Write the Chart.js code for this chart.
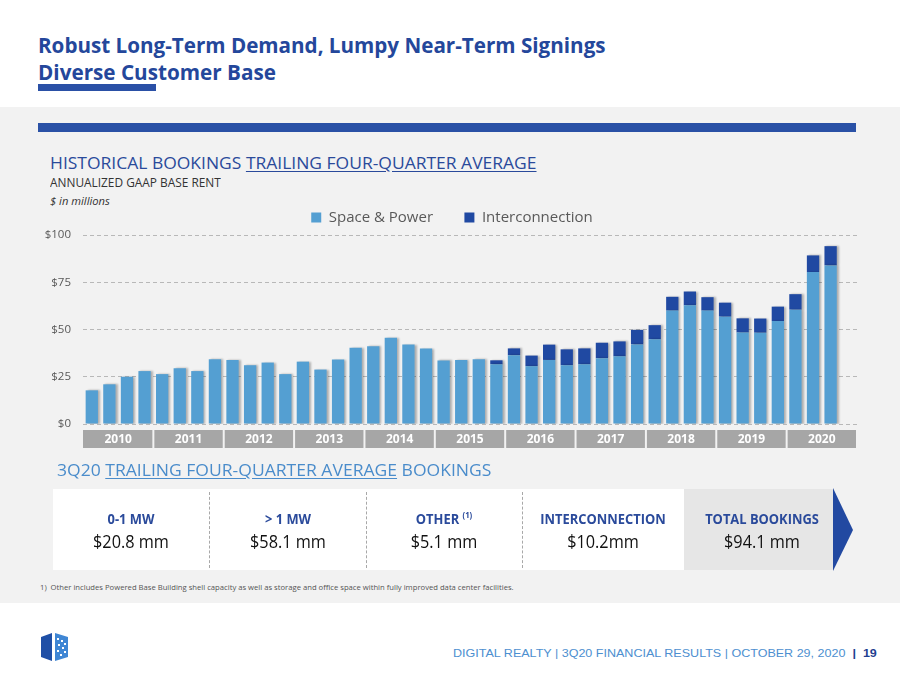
<!DOCTYPE html>
<html><head><meta charset="utf-8">
<script src="https://cdn.jsdelivr.net/npm/chart.js@4.4.0/dist/chart.umd.min.js"></script>
<style>
html,body{margin:0;padding:0;width:900px;height:675px;overflow:hidden;background:#fff;font-family:"Open Sans",sans-serif;}
.t{position:absolute;white-space:nowrap;line-height:1;transform-origin:left center;}
.c{transform-origin:center center;}
#panel{position:absolute;left:0;top:107px;width:900px;height:496px;background:#f2f2f2;}
.lbl{font-weight:700;color:#2a4a9b;font-size:15px;}
.val{color:#111;font-size:18.5px;}
.sep{position:absolute;top:492px;height:76px;width:0;border-left:1px dashed #a8a8a8;}
</style></head>
<body>
<div class="t" data-w="568" style="left:38px;top:33px;font-size:22px;font-weight:700;color:#24479b;">Robust Long-Term Demand, Lumpy Near-Term Signings</div>
<div class="t" data-w="238" style="left:38px;top:59.5px;font-size:22px;font-weight:700;color:#24479b;">Diverse Customer Base</div>
<div style="position:absolute;left:38px;top:84px;width:118px;height:7px;background:#2a50a6;"></div>
<div id="panel"></div>
<div style="position:absolute;left:38px;top:123px;width:818px;height:9px;background:#2a51a6;"></div>

<div class="t" data-w="487" style="left:50px;top:154px;font-size:17px;color:#2a4a9b;">HISTORICAL BOOKINGS <span style="text-decoration:underline;text-underline-offset:2px;">TRAILING FOUR-QUARTER AVERAGE</span></div>
<div class="t" data-w="171" style="left:50px;top:177px;font-size:12.5px;color:#333;">ANNUALIZED GAAP BASE RENT</div>
<div class="t" data-w="60" style="left:50px;top:195px;font-size:11px;font-style:italic;color:#333;">$ in millions</div>

<canvas id="chart" width="900" height="260" style="position:absolute;left:0;top:200px;width:900px;height:260px;"></canvas>

<div class="t" data-w="434" style="left:57px;top:462px;font-size:16px;color:#4a8ccb;">3Q20 <span style="text-decoration:underline;text-underline-offset:2px;">TRAILING FOUR-QUARTER AVERAGE</span> BOOKINGS</div>

<div style="position:absolute;left:53px;top:489px;width:631px;height:81px;background:#fff;"></div>
<div style="position:absolute;left:684px;top:489px;width:150px;height:81px;background:#e6e6e6;"></div>
<svg style="position:absolute;left:833px;top:488px;" width="22" height="84"><polygon points="0,0 20,42 0,83" fill="#2249a1"/></svg>
<div class="sep" style="left:209px;"></div>
<div class="sep" style="left:366px;"></div>
<div class="sep" style="left:522px;"></div>

<div id="boxes"></div>

<div class="t" data-w="474" style="left:40px;top:583px;font-size:8px;color:#555;">1)&nbsp; Other includes Powered Base Building shell capacity as well as storage and office space within fully improved data center facilities.</div>

<svg style="position:absolute;left:41px;top:632px;" width="28" height="30" viewBox="0 0 28 30">
<polygon points="0,5 11,1 11,29 0,25" fill="#1f4fa6"/>
<polygon points="14,1 27,5 27,25 14,29" fill="#3f86d4"/>
<g fill="#fff"><rect x="16" y="6" width="2" height="2"/><rect x="20" y="8" width="2" height="2"/><rect x="23" y="11" width="2" height="2"/><rect x="17" y="12" width="2" height="2"/><rect x="21" y="15" width="2" height="2"/><rect x="16" y="18" width="2" height="2"/><rect x="23" y="19" width="2" height="2"/><rect x="19" y="22" width="2" height="2"/></g>
</svg>
<div class="t" data-w="424" style="left:453px;top:647.5px;font-size:11.5px;font-family:'Liberation Sans Narrow','Liberation Sans',sans-serif;color:#4d8fd0;">DIGITAL REALTY | 3Q20 FINANCIAL RESULTS | OCTOBER 29, 2020 &nbsp;<b style="color:#1f3f90;">|</b>&nbsp; <b style="color:#1f3f90;">19</b></div>

<script>
// ---- data ----
const quarters = ['1Q10','2Q10','3Q10','4Q10','1Q11','2Q11','3Q11','4Q11','1Q12','2Q12','3Q12','4Q12',
  '1Q13','2Q13','3Q13','4Q13','1Q14','2Q14','3Q14','4Q14','1Q15','2Q15','3Q15','4Q15',
  '1Q16','2Q16','3Q16','4Q16','1Q17','2Q17','3Q17','4Q17','1Q18','2Q18','3Q18','4Q18',
  '1Q19','2Q19','3Q19','4Q19','1Q20','2Q20','3Q20','4Q20'];
const years = ['2010','2011','2012','2013','2014','2015','2016','2017','2018','2019','2020'];
const spacePower = [17.8,21.0,25.0,28.0,26.4,29.5,28.0,34.3,33.9,31.1,32.5,26.4,
  33.0,28.8,34.1,40.4,41.1,45.6,42.0,39.9,33.6,33.9,34.3,31.6,
  36.4,30.6,33.9,31.1,31.6,34.8,35.8,42.1,44.8,60.0,62.8,60.0,
  56.8,48.4,48.3,54.5,60.5,80.4,83.9,null];
const interconnection = [0,0,0,0,0,0,0,0,0,0,0,0,
  0,0,0,0,0,0,0,0,0,0,0,2.1,
  3.6,5.6,8.1,8.4,8.4,8.2,7.9,7.7,7.5,7.3,7.3,7.1,
  7.4,7.5,7.5,7.6,8.2,8.8,10.2,null];
const yTicks = [0,25,50,75,100];
const summaryLabels = ['0-1 MW','> 1 MW','OTHER <sup style="font-size:9px;vertical-align:6px;line-height:0">(1)</sup>','INTERCONNECTION','TOTAL BOOKINGS'];
const summaryValues = ['$20.8 mm','$58.1 mm','$5.1 mm','$10.2mm','$94.1 mm'];

// summary boxes
const centers = [131,288,444,603,762];
const boxes = document.getElementById('boxes');
summaryLabels.forEach((l,i)=>{
  const a = document.createElement('div');
  a.className='t c lbl'; a.style.left=centers[i]+'px'; a.style.top='510.5px'; a.innerHTML=l;
  a.dataset.c='1'; a.dataset.k='0.86';
  boxes.appendChild(a);
  const b = document.createElement('div');
  b.className='t c val'; b.style.left=centers[i]+'px'; b.style.top='532px'; b.textContent=summaryValues[i];
  b.dataset.c='1'; b.dataset.k='0.88';
  boxes.appendChild(b);
});

function fit(){
  document.querySelectorAll('.t').forEach(el=>{
    const w = el.offsetWidth;
    if (el.dataset.c){
      el.style.transform = `translateX(-50%) scaleX(${el.dataset.k})`;
    } else if (el.dataset.w){
      el.style.transform = `scaleX(${parseFloat(el.dataset.w)/w})`;
    }
  });
}
fit();
if (document.fonts) document.fonts.ready.then(fit);

// ---- chart ----
const yearBoxes = {
  id:'yearBoxes',
  afterDraw(chart){
    const {ctx, chartArea} = chart;
    const x = chart.scales.x;
    const slot = x.getPixelForValue(1) - x.getPixelForValue(0);
    ctx.save();
    years.forEach((yr,i)=>{
      const l = x.getPixelForValue(i*4) - slot/2;
      const w = slot*4;
      ctx.fillStyle = '#a6a6a6';
      ctx.fillRect(l + (i ? 1 : 0), chartArea.bottom + 6, w - (i ? 1 : 0) - 1, 18);
      ctx.fillStyle = '#fff';
      ctx.font = 'bold 12px "Open Sans"';
      ctx.textAlign = 'center';
      ctx.textBaseline = 'middle';
      ctx.fillText(yr, l + w/2, chartArea.bottom + 15.5);
    });
    ctx.restore();
  }
};
const barShadow = {
  id:'barShadow',
  beforeDatasetsDraw(c){ const ctx=c.ctx; ctx.save(); ctx.shadowColor='rgba(0,0,0,0.28)'; ctx.shadowOffsetX=2; ctx.shadowOffsetY=0; ctx.shadowBlur=2; },
  afterDatasetsDraw(c){ c.ctx.restore(); }
};

new Chart(document.getElementById('chart'), {
  type:'bar',
  data:{
    labels:quarters,
    datasets:[
      {label:'Space & Power', data:spacePower, backgroundColor:'#549fd2', stack:'s'},
      {label:'Interconnection', data:interconnection, backgroundColor:'#2049a2', stack:'s'}
    ]
  },
  options:{
    responsive:false, animation:false, devicePixelRatio:1,
    layout:{padding:{top:2,right:0,left:4,bottom:0}},
    datasets:{bar:{barPercentage:0.7, categoryPercentage:1}},
    plugins:{
      tooltip:{enabled:false},
      legend:{
        position:'top',
        labels:{
          boxWidth:10, boxHeight:10, padding:8, color:'#595959',
          font:{family:'Open Sans', size:15},
          generateLabels(chart){
            const items = Chart.defaults.plugins.legend.labels.generateLabels(chart);
            items[0].text = items[0].text + '      ';
            return items;
          }
        }
      }
    },
    scales:{
      x:{stacked:true, grid:{display:false}, border:{display:false}, ticks:{display:false},
         afterFit(s){ s.height = 36; }},
      y:{stacked:true, min:0, max:100, afterBuildTicks(s){ s.ticks = yTicks.map(v=>({value:v})); },
         ticks:{callback:v=>'$'+v, color:'#595959', font:{size:11.5, family:'Open Sans'}, padding:12},
         grid:{color:'#b8b8b8', drawTicks:false, lineWidth:1},
         border:{display:false, dash:[4,3]},
         afterFit(s){ s.width = 79; }},
      yRight:{position:'right', display:true, min:0, max:100,
         grid:{display:false, drawTicks:false}, border:{display:false}, ticks:{display:false},
         afterFit(s){ s.width = 43; }}
    }
  },
  plugins:[yearBoxes, barShadow]
});
</script>
</body></html>
